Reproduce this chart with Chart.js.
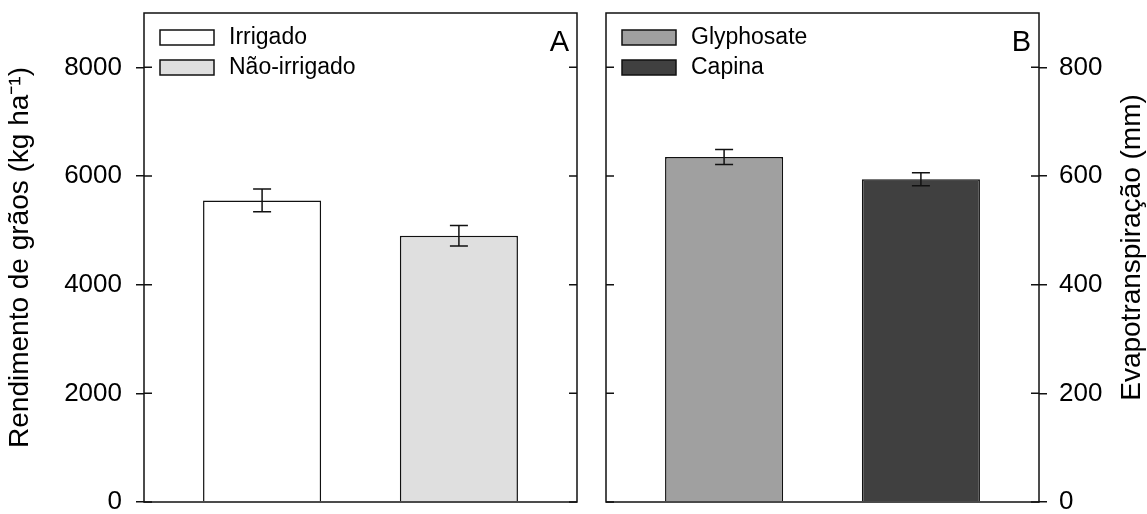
<!DOCTYPE html>
<html>
<head>
<meta charset="utf-8">
<script src="https://cdn.jsdelivr.net/npm/chart.js@4.4.1/dist/chart.umd.min.js"></script>
<style>
  body { margin: 0; background: #fff; }
  #wrap { position: relative; width: 1147px; height: 514px; }
  canvas { position: absolute; top: 0; }
  #chartA { left: 0; }
  #chartB { left: 590px; }
</style>
</head>
<body>
<div id="wrap">
  <canvas id="chartA" width="590" height="514"></canvas>
  <canvas id="chartB" width="557" height="514"></canvas>
</div>
<script>
var FONT = "'Liberation Sans', Arial, sans-serif";

// bar positions on the x axis (shared by both panels)
var positions = [1, 2];

// panel A: grain yield
var labelsA = ['Irrigado', 'Não-irrigado'];
var valuesA = [5550, 4900];
var errorsA = [210, 190];
var colorsA = ['#ffffff', '#dfdfdf'];
var ticksA = [0, 2000, 4000, 6000, 8000];

// panel B: evapotranspiration
var labelsB = ['Glyphosate', 'Capina'];
var valuesB = [635, 594];
var errorsB = [14, 12];
var colorsB = ['#a0a0a0', '#404040'];
var ticksB = [0, 200, 400, 600, 800];

var panelExtras = {
  id: 'panelExtras',
  afterDatasetsDraw: function(chart, args, opts) {
    var ctx = chart.ctx, area = chart.chartArea;
    var xs = chart.scales.x, ys = chart.scales.y;
    var ds = chart.data.datasets[0];
    ctx.save();
    ctx.strokeStyle = '#111';
    ctx.lineWidth = 1.5;

    // error bars
    ds.data.forEach(function(pt, i) {
      var px = xs.getPixelForValue(pt.x);
      var top = ys.getPixelForValue(pt.y + opts.errors[i]);
      var bot = ys.getPixelForValue(pt.y - opts.errors[i]);
      ctx.beginPath();
      ctx.moveTo(px, top); ctx.lineTo(px, bot);
      ctx.moveTo(px - 9, top); ctx.lineTo(px + 9, top);
      ctx.moveTo(px - 9, bot); ctx.lineTo(px + 9, bot);
      ctx.stroke();
    });

    // frame
    ctx.strokeRect(area.left, area.top, area.right - area.left, area.bottom - area.top);

    // inward ticks on both sides
    ys.ticks.forEach(function(t) {
      var py = ys.getPixelForValue(t.value);
      ctx.beginPath();
      ctx.moveTo(area.left, py); ctx.lineTo(area.left + 8, py);
      ctx.moveTo(area.right, py); ctx.lineTo(area.right - 8, py);
      ctx.stroke();
    });

    // legend inside the panel
    ctx.font = '23px ' + FONT;
    ctx.textBaseline = 'middle';
    ctx.textAlign = 'left';
    chart.data.labels.forEach(function(lab, i) {
      var bx = area.left + 16, by = area.top + 17 + i * 30;
      ctx.fillStyle = ds.backgroundColor[i];
      ctx.fillRect(bx, by, 54, 15);
      ctx.strokeRect(bx, by, 54, 15);
      ctx.fillStyle = '#000';
      ctx.fillText(lab, bx + 69, by + 8);
    });

    // panel letter
    ctx.font = '29px ' + FONT;
    ctx.textAlign = 'right';
    ctx.textBaseline = 'alphabetic';
    ctx.fillText(opts.letter, area.right - 8, area.top + 38);

    // right-hand axis title, reading bottom to top
    if (opts.sideTitle) {
      ctx.save();
      ctx.translate(chart.width - 15, (area.top + area.bottom) / 2 - 10);
      ctx.rotate(-Math.PI / 2);
      ctx.textAlign = 'center';
      ctx.textBaseline = 'middle';
      ctx.font = '28px ' + FONT;
      ctx.fillText(opts.sideTitle, 0, 0);
      ctx.restore();
    }
    ctx.restore();
  }
};

function makePanel(id, labels, values, errors, colors, yTicks, yMax, side, opts) {
  var ctx = document.getElementById(id).getContext('2d');
  return new Chart(ctx, {
    type: 'bar',
    data: {
      labels: labels,
      datasets: [{
        data: positions.map(function(p, i) { return { x: p, y: values[i] }; }),
        backgroundColor: colors,
        borderColor: '#111',
        borderWidth: 1.5,
        barPercentage: 0.6,
        categoryPercentage: 1
      }]
    },
    options: {
      responsive: false,
      animation: false,
      layout: { padding: opts.padding },
      plugins: {
        legend: { display: false },
        tooltip: { enabled: false },
        panelExtras: opts
      },
      scales: {
        x: {
          type: 'linear',
          min: 0.4,
          max: 2.6,
          offset: false,
          display: false,
          afterBuildTicks: function(s) { s.ticks = positions.map(function(v) { return { value: v }; }); }
        },
        y: {
          position: side,
          min: 0,
          max: yMax,
          afterBuildTicks: function(s) { s.ticks = yTicks.map(function(v) { return { value: v }; }); },
          afterFit: function(s) {
            s.width = opts.axisWidth;
            s.paddingTop = 0;
            s.paddingBottom = 0;
          },
          border: { display: false },
          grid: { drawOnChartArea: false, color: '#111', lineWidth: 1.5, tickLength: 8 },
          ticks: {
            color: '#000',
            padding: opts.tickPad,
            font: { family: FONT, size: 26 },
            callback: function(v) { return String(v); }
          },
          title: {
            display: !!opts.axisTitle,
            text: opts.axisTitle,
            color: '#000',
            font: { family: FONT, size: 28 },
            padding: { top: 3, bottom: 2 }
          }
        }
      }
    },
    plugins: [panelExtras]
  });
}

makePanel('chartA', labelsA, valuesA, errorsA, colorsA, ticksA, 9000, 'left', {
  errors: errorsA, letter: 'A', axisTitle: 'Rendimento de grãos (kg ha⁻¹)',
  axisWidth: 144, tickPad: 14, padding: { left: 0, right: 13, top: 13, bottom: 12 }
});

makePanel('chartB', labelsB, valuesB, errorsB, colorsB, ticksB, 900, 'right', {
  errors: errorsB, letter: 'B', sideTitle: 'Evapotranspiração (mm)',
  axisWidth: 108, tickPad: 12, padding: { left: 16, right: 0, top: 13, bottom: 12 }
});
</script>
</body>
</html>
